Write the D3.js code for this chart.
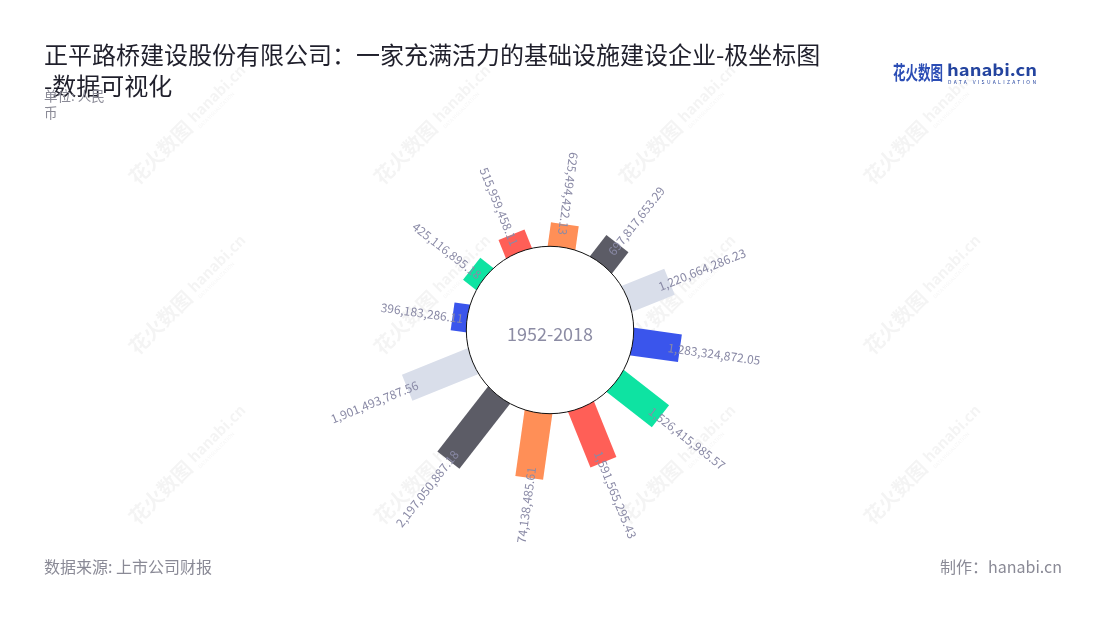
<!DOCTYPE html>
<html><head><meta charset="utf-8">
<script src="https://cdn.jsdelivr.net/npm/d3@7/dist/d3.min.js"></script>
<style>
body{margin:0;background:#fff;}
svg{display:block;font-family:"Noto Sans CJK SC","Noto Sans",sans-serif;}
</style>
</head><body>
<svg id="chart" width="1100" height="620"></svg>
<script>
// ---- data ----
const categories = ["2007","2008","2009","2010","2011","2012","2013","2014","2015","2016","2017","2018"];
const values = [396183286.11, 425116895.18, 515959458.11, 625494422.13, 697817653.29, 1220664286.23,
                1283324872.05, 1526415985.57, 1591565295.43, 1774138485.61, 2197050887.18, 1901493787.56];
const palette = ["#3a55ec","#0ee3a2","#ff5f57","#ff8f57","#5c5c66","#d9deea"];
const titleLines = ["正平路桥建设股份有限公司：一家充满活力的基础设施建设企业-极坐标图", "-数据可视化"];
const unitLines = ["单位: 人民", "币"];
const centerLabel = "1952-2018";
const sourceText = "数据来源: 上市公司财报";
const creditText = "制作：hanabi.cn";

const svg = d3.select("#chart");
const W = 1100, H = 620;
const cx = 550, cy = 330, innerR = 83.7;

// watermarks
const wm = svg.append("g").attr("fill","#000").attr("opacity",0.045);
[150,320,490].forEach(yy=>{
  [165,410,655,900].forEach(xx=>{
    const g = wm.append("g").attr("transform",`translate(${xx},${yy}) rotate(-45)`);
    g.append("text").attr("x",-45).attr("y",6).attr("font-size",20).attr("font-weight",700).text("花火数图");
    g.append("text").attr("x",40).attr("y",2).attr("font-size",15).attr("font-weight",700).text("hanabi.cn");
    g.append("text").attr("x",40).attr("y",10).attr("font-size",5).text("DATA VISUALIZATION");
  });
});

// title
const title = svg.append("text").attr("x",44).attr("y",64).attr("font-size",24).attr("fill","#1f1f2b");
titleLines.forEach((t,i)=> title.append("tspan").attr("x",44).attr("dy", i===0?0:31).text(t));
const unit = svg.append("text").attr("x",44).attr("y",101).attr("font-size",13.5).attr("fill","#8a8a96");
unitLines.forEach((t,i)=> unit.append("tspan").attr("x",44).attr("dy", i===0?0:17).text(t));

// logo
svg.append("text").attr("x",893).attr("y",80).attr("font-size",19).attr("font-weight",700)
   .attr("fill","#2b4db5").attr("textLength",50).attr("lengthAdjust","spacingAndGlyphs").text("花火数图");
svg.append("text").attr("x",947).attr("y",76).attr("font-size",16).attr("font-weight",700)
   .attr("fill","#24449f").attr("textLength",90).attr("lengthAdjust","spacingAndGlyphs").text("hanabi.cn");
svg.append("text").attr("x",948).attr("y",83.5).attr("font-size",5).attr("fill","#24449f")
   .attr("textLength",88).attr("lengthAdjust","spacing").text("DATA VISUALIZATION");

// footer
svg.append("text").attr("x",44).attr("y",573).attr("font-size",16).attr("fill","#8a8a96").text(sourceText);
svg.append("text").attr("x",1062).attr("y",573).attr("font-size",16).attr("fill","#8a8a96")
   .attr("text-anchor","end").text(creditText);

// scales
const startDeg = -97;
const angle = d3.scaleBand().domain(categories).range([startDeg, startDeg + 360]).padding(0);
const radius = d3.scaleLinear().domain([0, d3.max(values)]).range([innerR, 165]);
const color = d3.scaleOrdinal().domain(categories).range(palette);

svg.append("defs").append("clipPath").attr("id","plotClip")
   .append("rect").attr("x",0).attr("y",100).attr("width",W).attr("height",443);

const plot = svg.append("g").attr("clip-path","url(#plotClip)");
const center = plot.append("g").attr("transform",`translate(${cx},${cy})`);

const data = categories.map((c,i)=>({cat:c, value:values[i]}));
const barW = 28;
const fmt = d3.format(",.2f");

const items = center.selectAll("g.item").data(data).join("g")
  .attr("class","item")
  .attr("transform", d => `rotate(${angle(d.cat) + angle.bandwidth()/2})`);

items.append("rect")
  .attr("x", -barW/2)
  .attr("y", d => -radius(d.value))
  .attr("width", barW)
  .attr("height", d => radius(d.value) - 78)
  .attr("fill", d => color(d.cat));

// center circle (drawn over bar bases)
center.append("circle").attr("r", innerR).attr("fill","#fff").attr("stroke","#111").attr("stroke-width",1);
center.append("text").attr("y",3).attr("text-anchor","middle").attr("dominant-baseline","central")
  .attr("font-size",18).attr("fill","#8c8ca4").text(centerLabel);

// labels
const flipLimit = 15; // degrees
center.selectAll("g.lab").data(data).join("g")
  .attr("class","lab")
  .attr("transform", d => `rotate(${angle(d.cat) + angle.bandwidth()/2})`)
  .each(function(d){
    const deg = ((angle(d.cat) + angle.bandwidth()/2) % 360 + 360) % 360;
    const flip = deg > 180 || deg < flipLimit;
    const r = radius(d.value) - (flip ? 11 : 12);
    d3.select(this).append("text")
      .attr("transform", `translate(0,${-r}) rotate(${flip ? 90 : -90})`)
      .attr("text-anchor", flip ? "end" : "start")
      .attr("dominant-baseline","central")
      .attr("font-size",12)
      .attr("fill","#8a8aa6")
      .text(fmt(d.value));
  });
</script>
</body></html>
